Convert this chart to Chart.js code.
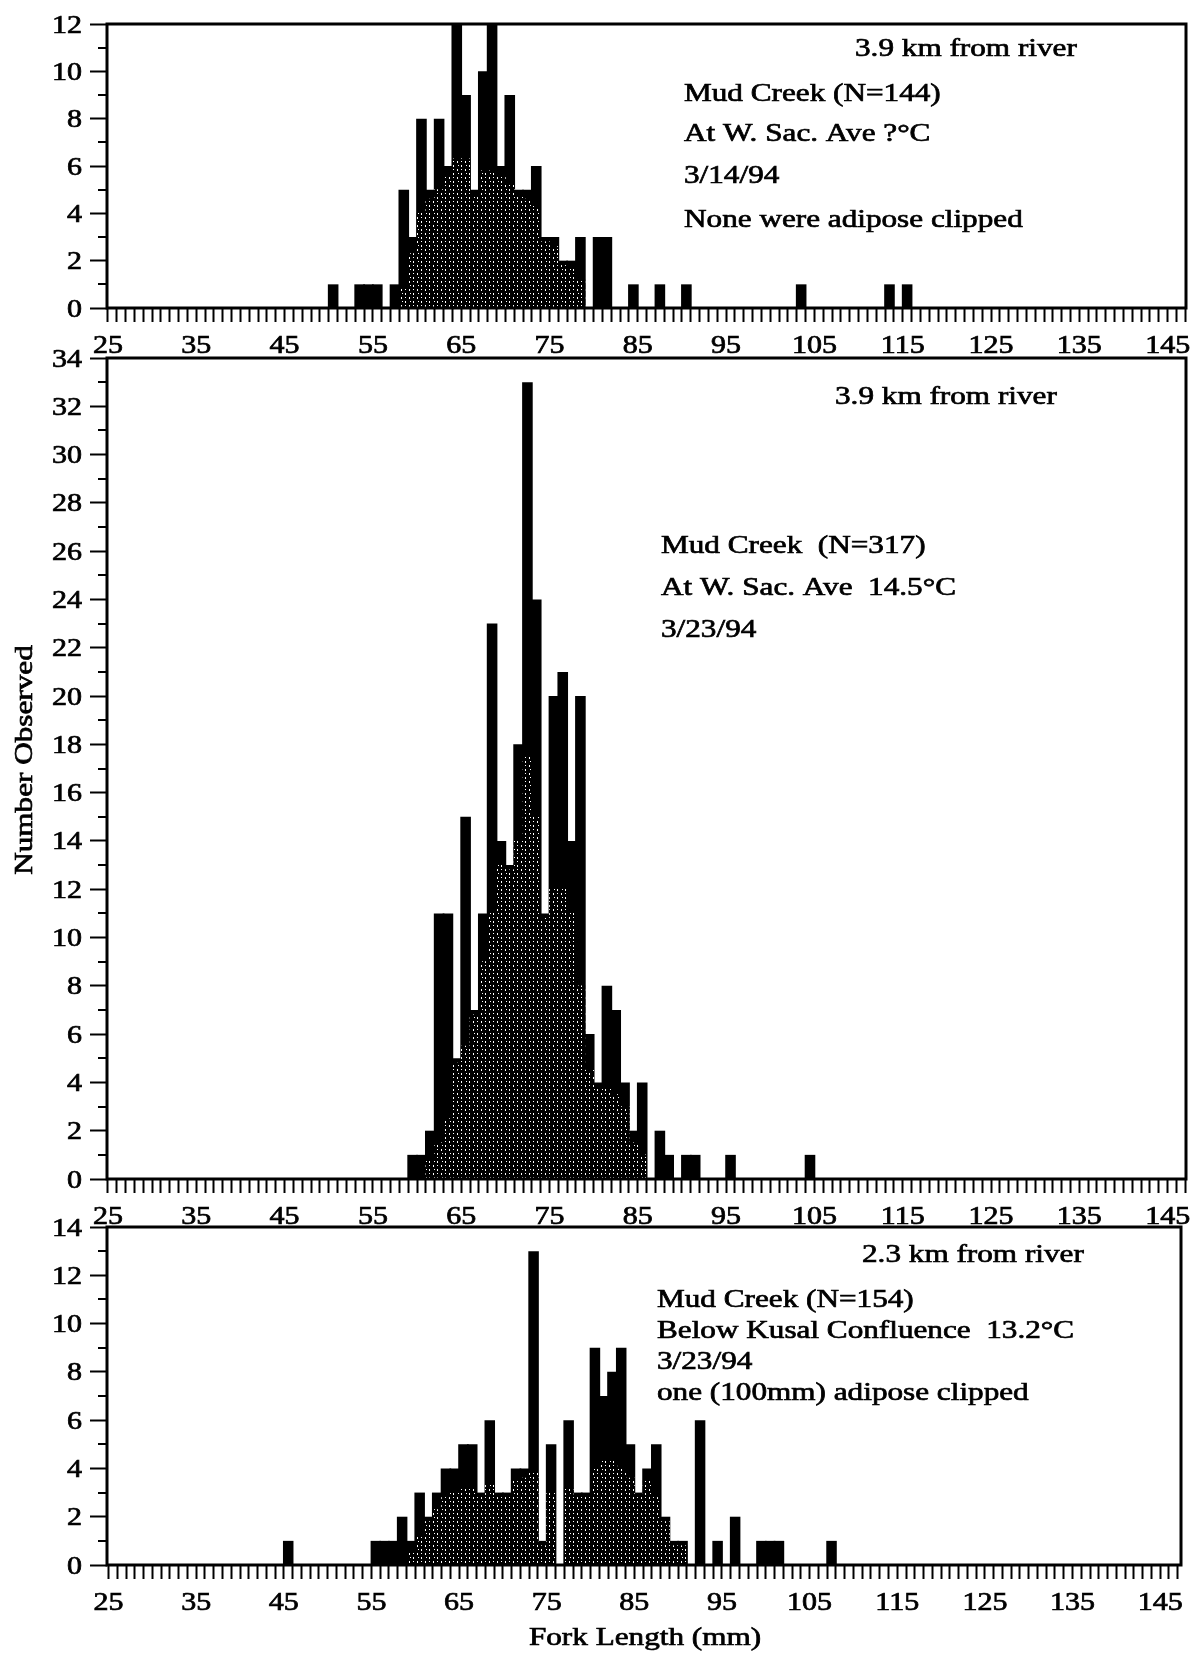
<!DOCTYPE html>
<html>
<head>
<meta charset="utf-8">
<title>Mud Creek fork length</title>
<script src="https://cdn.jsdelivr.net/npm/chart.js@4.4.1/dist/chart.umd.min.js"></script>
<style>
  html, body { margin: 0; padding: 0; background: #fff; }
  #page { position: relative; width: 1199px; height: 1654px; overflow: hidden; }
  #page canvas { position: absolute; left: 0; }
</style>
</head>
<body>
<div id="page">
  <canvas id="c0314"></canvas>
  <canvas id="c0323a"></canvas>
  <canvas id="c0323b"></canvas>
</div>
<script>
const xLabels = [25, 35, 45, 55, 65, 75, 85, 95, 105, 115, 125, 135, 145];

// 1 mm length classes: each value is the lower edge of its class
// 3/14/94 - At W. Sac. Ave (N=144)
const len0314 = [50, 53, 54, 55, 57, 58, 59, 60, 61, 62, 63, 64, 65, 66, 67, 68, 69, 70, 71, 72, 73, 74, 75, 76, 77, 78, 80, 81, 84, 87, 90, 103, 113, 115];
const n0314   = [ 1,  1,  1,  1,  1,  5,  3,  8,  5,  8,  6, 12,  9,  5, 10, 12,  6,  9,  5,  5,  6,  3,  3,  2,  2,  3,  3,  3,  1,  1,  1,   1,   1,   1];
const shadeLen0314 = [58, 59, 60, 61, 62, 63, 64, 65, 66, 67, 68, 69, 70, 71, 72, 73, 74, 75, 76, 77, 78];
const shade0314    = [0.8, 2.3, 4, 4.6, 5, 5.6, 6.3, 6.3, 4.7, 5.8, 5.8, 5.6, 5.2, 4.7, 4.6, 4.3, 2.8, 2.6, 1.8, 1.7, 1.2];
const yLabels0314 = [0, 2, 4, 6, 8, 10, 12];

// 3/23/94 - At W. Sac. Ave (N=317)
const len0323a = [59, 60, 61, 62, 63, 64, 65, 66, 67, 68, 69, 70, 71, 72, 73, 74, 75, 76, 77, 78, 79, 80, 81, 82, 83, 84, 85, 87, 88, 90, 91, 95, 104];
const n0323a   = [ 1,  1,  2, 11, 11,  5, 15,  7, 11, 23, 14, 13, 18, 33, 24, 11, 20, 21, 14, 20,  6,  4,  8,  7,  4,  2,  4,  2,  1,  1,  1,  1,   1];
const shadeLen0323a = [61, 62, 63, 64, 65, 66, 67, 68, 69, 70, 71, 72, 73, 74, 75, 76, 77, 78, 79, 80, 81, 82, 83, 84, 85];
const shade0323a    = [0.8, 1.5, 2.5, 4.8, 5.5, 6.8, 9, 11, 13, 12.8, 14, 17.5, 15, 10.8, 12, 12, 11, 8, 4.5, 3.8, 3.8, 3.5, 3, 1.5, 1];
const yLabels0323a = [0, 2, 4, 6, 8, 10, 12, 14, 16, 18, 20, 22, 24, 26, 28, 30, 32, 34];

// 3/23/94 - Below Kusal Confluence (N=154)
const len0323b = [45, 55, 56, 57, 58, 59, 60, 61, 62, 63, 64, 65, 66, 67, 68, 69, 70, 71, 72, 73, 74, 75, 77, 78, 79, 80, 81, 82, 83, 84, 85, 86, 87, 88, 89, 90, 92, 94, 96, 99, 100, 101, 107];
const n0323b   = [ 1,  1,  1,  1,  2,  1,  3,  2,  3,  4,  4,  5,  5,  3,  6,  3,  3,  4,  4, 13,  1,  5,  6,  3,  3,  9,  7,  8,  9,  5,  3,  4,  5,  2,  1,  1,  6,  1,  2,  1,   1,   1,   1];
const shadeLen0323b = [59, 60, 61, 62, 63, 64, 65, 66, 67, 68, 69, 70, 71, 72, 73, 74, 75, 76, 77, 78, 79, 80, 81, 82, 83, 84, 85, 86, 87, 88, 89, 90];
const shade0323b    = [0.5, 1.2, 1.8, 2.3, 2.8, 3, 3.2, 3.2, 2.8, 3.3, 2.8, 2.8, 3.5, 3.6, 3.8, 0.8, 3, 0, 3.2, 2.8, 2.8, 4, 4.3, 4.3, 4, 3.6, 2.8, 3.5, 2.8, 1.8, 0.8, 0.8];
const yLabels0323b = [0, 2, 4, 6, 8, 10, 12, 14];

const FONT = '"Liberation Serif", "Times New Roman", serif';
const SX = 1.2; // the lettering is set wide

function wideText(ctx, str, x, y, size, align) {
  ctx.save();
  ctx.font = size + 'px ' + FONT;
  ctx.fillStyle = '#000';
  ctx.strokeStyle = '#000';
  ctx.lineWidth = 0.7;
  ctx.textAlign = align || 'left';
  ctx.textBaseline = 'alphabetic';
  ctx.translate(x, y + size * 0.34);
  ctx.scale(SX, 1);
  ctx.fillText(str, 0, 0);
  ctx.strokeText(str, 0, 0);
  ctx.restore();
}

function stipple() {
  const c = document.createElement('canvas');
  c.width = 8; c.height = 8;
  const g = c.getContext('2d');
  g.fillStyle = '#000';
  g.fillRect(0, 0, 8, 8);
  g.fillStyle = '#fff';
  g.fillRect(1, 1, 1, 2);
  g.fillRect(5, 5, 1, 2);
  g.fillRect(5, 1, 1, 1);
  g.fillRect(2, 5, 1, 1);
  return g.createPattern(c, 'repeat');
}

// a class [k, k+1) is drawn centred on k + 0.5
const classes = (lens, vals) => lens.map((k, i) => ({ x: k + 0.5, y: vals[i] }));

function decor(p) {
  return {
    id: 'decor',
    afterDraw(chart) {
      const { ctx, chartArea: a, scales: { x, y } } = chart;
      ctx.save();
      ctx.strokeStyle = '#000';
      ctx.lineWidth = 3;
      ctx.strokeRect(a.left, a.top, a.right - a.left, a.bottom - a.top);
      // short ticks on the odd counts
      ctx.lineWidth = 2;
      ctx.beginPath();
      for (let v = 1; v < p.yMax; v += 2) {
        const py = Math.round(y.getPixelForValue(v));
        ctx.moveTo(a.left - 9, py);
        ctx.lineTo(a.left, py);
      }
      ctx.stroke();
      ctx.restore();

      p.yLabels.forEach(v => wideText(ctx, String(v), 82, y.getPixelForValue(v), 25, 'right'));
      xLabels.forEach(v => wideText(ctx, String(v), x.getPixelForValue(v), a.bottom + 36, 25, 'center'));
      p.notes.forEach(n => wideText(ctx, n[0], n[1], n[2] - p.top, 26, 'left'));
      if (p.extra) p.extra(ctx, p.top);
    }
  };
}

function panel(p) {
  const canvas = document.getElementById(p.id);
  canvas.width = 1199;
  canvas.height = p.height;
  canvas.style.top = p.top + 'px';

  return new Chart(canvas, {
    type: 'bar',
    data: {
      datasets: [
        {
          data: classes(p.len, p.counts),
          backgroundColor: '#000',
          borderWidth: 0,
          barPercentage: 1.2,
          categoryPercentage: 1,
          grouped: false,
          order: 2
        },
        {
          data: classes(p.shadeLen, p.shade),
          backgroundColor: stipple(),
          borderWidth: 0,
          barPercentage: 1,
          categoryPercentage: 1,
          grouped: false,
          order: 1
        }
      ]
    },
    options: {
      responsive: false,
      animation: false,
      events: [],
      layout: { padding: { top: p.padTop, left: 0, right: p.padRight, bottom: 0 } },
      plugins: { legend: { display: false }, tooltip: { enabled: false } },
      scales: {
        x: {
          type: 'linear',
          min: p.xMin,
          max: p.xMax,
          offset: false,
          ticks: { display: false, stepSize: 1, includeBounds: false },
          grid: { offset: false, drawOnChartArea: false, tickLength: 14, tickWidth: 2, color: '#000' },
          border: { display: false },
          afterFit(s) { s.height = p.axisH; s.paddingLeft = 0; s.paddingRight = 0; }
        },
        y: {
          min: 0,
          max: p.yMax,
          ticks: { display: false, stepSize: 2, includeBounds: false },
          grid: { drawOnChartArea: false, tickLength: 17, tickWidth: 2, color: '#000' },
          border: { display: false },
          afterFit(s) { s.width = 107; s.paddingTop = 0; s.paddingBottom = 0; }
        }
      }
    },
    plugins: [decor(p)]
  });
}

panel({
  id: 'c0314', top: 0, height: 362, padTop: 24, padRight: 13, axisH: 54, yMax: 12,
  xMin: 24.89, xMax: 147.08,
  len: len0314, counts: n0314, shadeLen: shadeLen0314, shade: shade0314, yLabels: yLabels0314,
  notes: [
    ['3.9 km from river', 855, 47],
    ['Mud Creek (N=144)', 684, 92],
    ['At W. Sac. Ave ?°C', 684, 132],
    ['3/14/94', 684, 174],
    ['None were adipose clipped', 684, 218]
  ]
});

panel({
  id: 'c0323a', top: 340, height: 910, padTop: 18, padRight: 13, axisH: 71, yMax: 34,
  xMin: 24.89, xMax: 147.08,
  len: len0323a, counts: n0323a, shadeLen: shadeLen0323a, shade: shade0323a, yLabels: yLabels0323a,
  notes: [
    ['3.9 km from river', 835, 395],
    ['Mud Creek  (N=317)', 661, 544],
    ['At W. Sac. Ave  14.5°C', 661, 586],
    ['3/23/94', 661, 628]
  ],
  extra(ctx, top) {
    ctx.save();
    ctx.translate(23, 760 - top);
    ctx.rotate(-Math.PI / 2);
    ctx.scale(SX, 1);
    ctx.font = '26px ' + FONT;
    ctx.fillStyle = '#000';
    ctx.strokeStyle = '#000';
    ctx.lineWidth = 0.7;
    ctx.textAlign = 'center';
    ctx.fillText('Number Observed', 0, 26 * 0.34);
    ctx.strokeText('Number Observed', 0, 26 * 0.34);
    ctx.restore();
  }
});

panel({
  id: 'c0323b', top: 1200, height: 454, padTop: 27, padRight: 18, axisH: 89, yMax: 14,
  xMin: 24.82, xMax: 147.38,
  len: len0323b, counts: n0323b, shadeLen: shadeLen0323b, shade: shade0323b, yLabels: yLabels0323b,
  notes: [
    ['2.3 km from river', 862, 1253],
    ['Mud Creek (N=154)', 657, 1298],
    ['Below Kusal Confluence  13.2°C', 657, 1329],
    ['3/23/94', 657, 1360],
    ['one (100mm) adipose clipped', 657, 1391]
  ],
  extra(ctx, top) {
    wideText(ctx, 'Fork Length (mm)', 645, 1636 - top, 26, 'center');
  }
});
</script>
</body>
</html>
